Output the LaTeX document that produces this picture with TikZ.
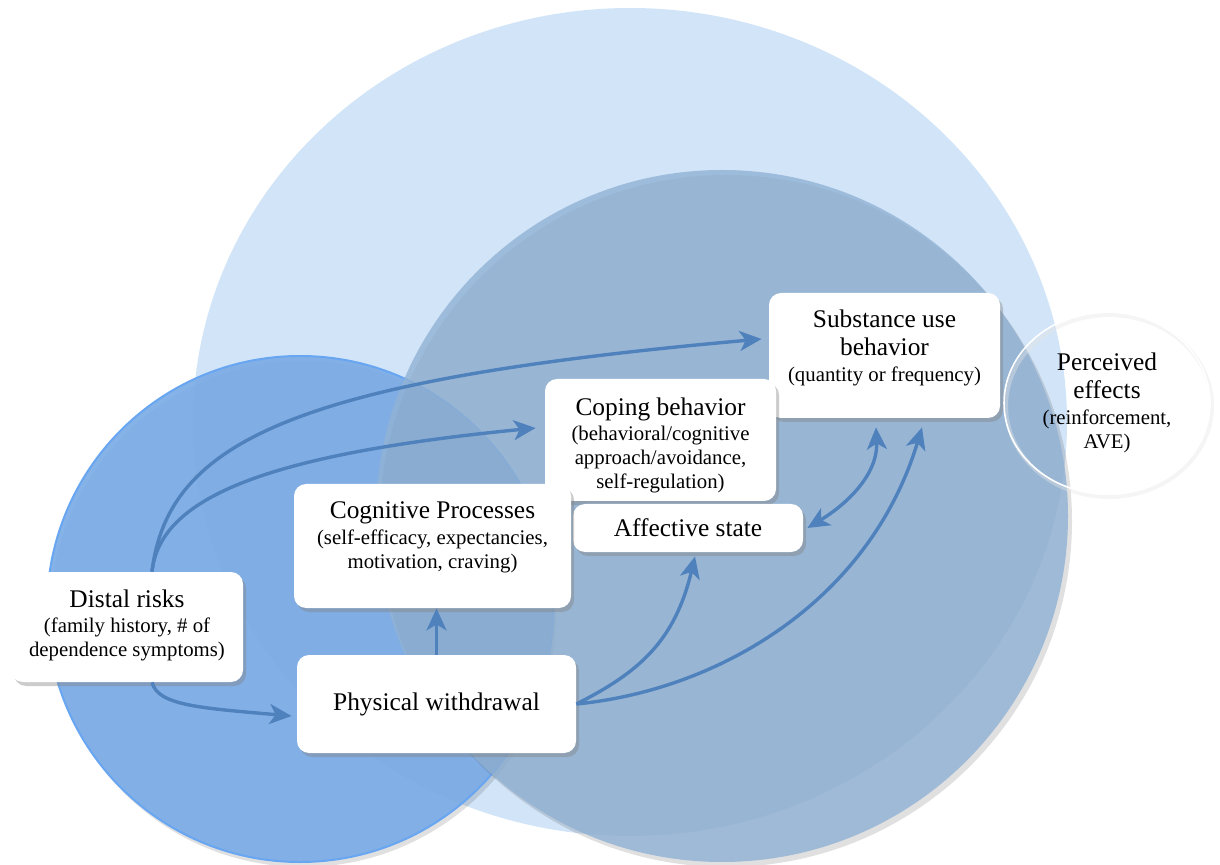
\documentclass[tikz,border=0pt]{standalone}
\usepackage{fontspec}
\setmainfont{Liberation Serif}
\usetikzlibrary{arrows.meta,shadows,calc,shapes.geometric}

\definecolor{paleblue}{RGB}{210,228,247}
\definecolor{skyblue}{RGB}{124,172,229}
\definecolor{skyedge}{RGB}{104,166,242}
\definecolor{slateblue}{RGB}{145,178,212}
\definecolor{arrowblue}{RGB}{79,129,189}

\newcommand{\smalltext}{\fontsize{10.4}{12}\selectfont}

\tikzset{
  box/.style={fill=white, rounded corners=6pt, align=center, inner sep=2pt,
    font=\fontsize{12.7}{14}\selectfont,
    drop shadow={opacity=0.4, shadow xshift=1.5pt, shadow yshift=-2pt}},
  flow/.style={draw=arrowblue, line width=1.7pt,
    -{Stealth[length=11pt,width=10pt,inset=3pt]}},
  twoway/.style={flow, {Stealth[length=11pt,width=10pt,inset=3pt]}-{Stealth[length=11pt,width=10pt,inset=3pt]}},
}

\begin{document}
\begin{tikzpicture}[x=0.5pt, y=-0.5pt]
  \useasboundingbox (0,0) rectangle (1220,865);

  % background circles
  \fill[paleblue] (630,422) ellipse [x radius=437, y radius=414];
  \fill[black, opacity=0.12] (303,614) circle [radius=253];
  \filldraw[fill=skyblue, draw=skyedge, line width=1pt, fill opacity=0.93] (300,609) circle [radius=253];
  \fill[black, opacity=0.12] (726,521) circle [radius=346];
  \fill[slateblue, opacity=0.81] (722,516) circle [radius=346];

  % outer effect
  \draw[black!10, line width=2pt, opacity=0.4] (1109,406) ellipse [x radius=103, y radius=91];
  \node[ellipse, draw=white, line width=0.8pt, minimum width=103pt, minimum height=91pt,
        align=center, inner sep=0pt, font=\fontsize{12.7}{14}\selectfont]
        (effects) at (1107,403) {Perceived\\effects\\[-1pt]\smalltext (reinforcement,\\[-2pt]\smalltext AVE)};

  % boxes
  \node[box, minimum width=115.5pt, minimum height=62.5pt] (subst) at (884.5,355.5)
        {Substance use\\behavior\\[-1pt]\smalltext (quantity or frequency)\\[-4pt]\mbox{}};
  \node[box, minimum width=115.5pt, minimum height=61pt] (coping) at (660.5,440)
        {\rule{0pt}{14pt}Coping behavior\\[-1.5pt]\smalltext (behavioral/cognitive\\[-2pt]\smalltext approach/avoidance,\\[-2pt]\smalltext self-regulation)};
  \node[box, minimum width=115pt, minimum height=24pt] (affect) at (688,528) {Affective state};
  \node[box, minimum width=138.5pt, minimum height=62pt] (cogn) at (432.5,546)
        {Cognitive Processes\\[-1pt]\smalltext (self-efficacy, expectancies,\\[-2pt]\smalltext motivation, craving)\\[-3pt]\mbox{}};
  \node[box, minimum width=116pt, minimum height=55pt] (distal) at (127,627)
        {Distal risks\\[-1.5pt]\smalltext (family history, \# of\\[-2pt]\smalltext dependence symptoms)\\[-10pt]\mbox{}};
  \node[box, minimum width=139.5pt, minimum height=49pt] (phys) at (436.5,704) {Physical withdrawal};

  % connectors
  \draw[flow] ($(distal.north)+(25,0)$) .. controls +(16,-132) and +(-462,41) .. ($(subst.west)+(-7,-16.5)$);
  \draw[flow] ($(distal.north)+(25,0)$) .. controls +(8,-72) and +(-276,27) .. ($(coping.west)+(-9,-12)$);
  \draw[flow] ($(distal.south)+(25,0)$) .. controls +(6,23) and +(-92,-8) .. ($(phys.west)+(-5,12)$);
  \draw[flow] (phys.north) -- (phys.north |- cogn.south);
  \draw[flow] (phys.east) .. controls +(63.5,-32) and +(-20,84) .. ($(affect.south)+(7,4)$);
  \draw[flow] (phys.east) .. controls +(143.5,-14) and +(-52,173) .. ($(subst.south)+(37.5,9)$);
  \draw[twoway] ($(affect.east)+(4,0)$) .. controls +(38,-23) and +(2,48) .. ($(subst.south)+(-8.5,9)$);
\end{tikzpicture}
\end{document}
